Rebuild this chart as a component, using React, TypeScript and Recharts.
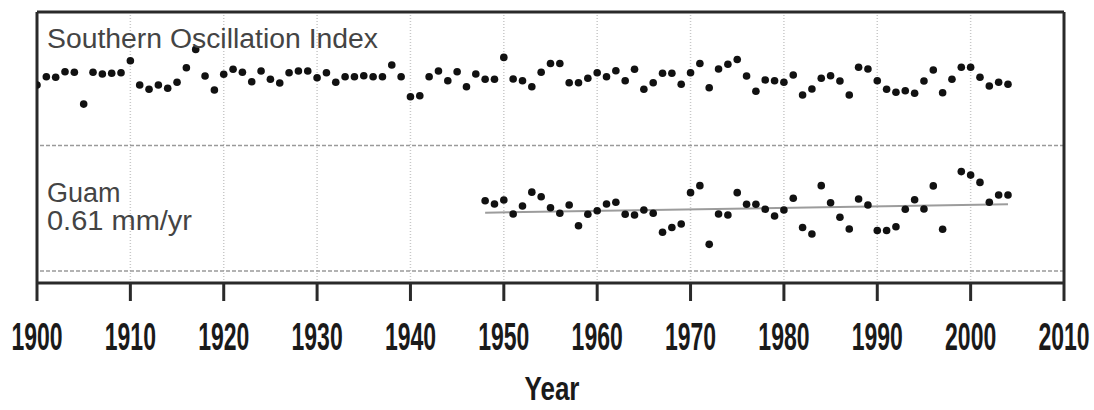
import React from "react";
import {
  ComposedChart,
  Scatter,
  XAxis,
  YAxis,
  CartesianGrid,
  ReferenceLine,
} from "recharts";

// ---- data ----
const SOI_FIRST_YEAR = 1900;
const SOI_VALUES: number[] = [
  741, 774, 772, 794, 792, 665, 792, 785, 788, 790,
  838, 741, 724, 741, 728, 752, 810, 883, 777, 721,
  784, 804, 792, 754, 797, 764, 749, 790, 797, 797,
  770, 790, 752, 774, 774, 778, 774, 774, 821, 774,
  694, 698, 774, 797, 758, 794, 734, 785, 764, 764,
  851, 765, 758, 734, 792, 827, 827, 750, 750, 768,
  790, 774, 798, 758, 804, 724, 750, 788, 788, 744,
  790, 827, 730, 805, 824, 843, 777, 716, 761, 758,
  752, 781, 701, 725, 768, 778, 757, 701, 812, 805,
  758, 724, 712, 718, 708, 757, 801, 710, 764, 812,
  812, 772, 737, 752, 744,
];

const GUAM_FIRST_YEAR = 1948;
const GUAM_VALUES: (number | null)[] = [
  280, 267, 283, 227, 259, 314, 296, 252, 230, 263,
  180, 226, 240, 267, 274, 226, 223, 243, 230, 154,
  173, 187, 312, 340, 106, 227, 223, 312, 266, 266,
  246, 219, 243, 290, 173, 147, 340, 272, 214, 167,
  287, 263, 161, 161, 176, 246, 284, 247, 339, 166,
  null, 396, 382, 353, 274, 303, 303,
];

const TREND_YEARS = [1948, 2004];
const TREND_VALUES = [232, 266];

const X_TICKS = [1900, 1910, 1920, 1930, 1940, 1950, 1960, 1970, 1980, 1990, 2000, 2010];
const Y_TICKS = [0, 100, 200, 300, 400, 500, 611, 719, 824, 930];
const Y_DOMAIN = [-48, 1032];
const PANEL_LINES = [0, 500];

const TITLE_SOI = "Southern Oscillation Index";
const TITLE_GUAM = "Guam";
const GUAM_RATE = "0.61 mm/yr";
const X_LABEL = "Year";

const soiData = SOI_VALUES.map((v, i) => ({ year: SOI_FIRST_YEAR + i, v }));
const guamData = GUAM_VALUES.map((v, i) => ({ year: GUAM_FIRST_YEAR + i, v })).filter(
  (d) => d.v !== null
);

const Dot = (props: any) => {
  const { cx, cy } = props;
  if (cx == null || cy == null) return null;
  return <circle cx={cx} cy={cy} r={3.8} fill="#111" />;
};

const XTick = (props: any) => {
  const { x, payload } = props;
  return (
    <g transform={`translate(${x},350) scale(1,1.72)`}>
      <text
        x={0}
        y={0}
        textAnchor="middle"
        fontFamily="'Liberation Sans', Arial, sans-serif"
        fontWeight="bold"
        fontSize={23}
        fill="#1a1a1a"
      >
        {payload.value}
      </text>
    </g>
  );
};

const W = 1094;
const H = 410;

export default function App() {
  return (
    <div style={{ position: "relative", width: W, height: H, overflow: "hidden" }}>
      <style>{"html,body{margin:0;padding:0;overflow:hidden;}"}</style>
      <ComposedChart
        width={W}
        height={H}
        margin={{ top: 12, right: 0, left: 37, bottom: 0 }}
      >
        <CartesianGrid
          horizontal={false}
          vertical={true}
          stroke="#c8c8c8"
          strokeDasharray="1 2"
          strokeWidth={1.5}
        />
        <XAxis
          dataKey="year"
          type="number"
          domain={[1900, 2010]}
          ticks={X_TICKS}
          allowDataOverflow
          height={127}
          axisLine={{ stroke: "#2a2a2a", strokeWidth: 3 }}
          tickLine={{ stroke: "#2a2a2a", strokeWidth: 3 }}
          tickSize={18}
          tick={<XTick />}
          interval={0}
        />
        <YAxis
          yAxisId="r"
          orientation="right"
          type="number"
          domain={Y_DOMAIN}
          ticks={Y_TICKS}
          allowDataOverflow
          width={30}
          axisLine={{ stroke: "#2a2a2a", strokeWidth: 3 }}
          tickLine={{ stroke: "#2a2a2a", strokeWidth: 2.5 }}
          tickSize={12}
          tick={false}
        />
        {PANEL_LINES.map((y) => (
          <ReferenceLine
            key={y}
            yAxisId="r"
            y={y}
            stroke="#9a9a9a"
            strokeWidth={1.5}
            strokeDasharray="4 2"
          />
        ))}
        <ReferenceLine yAxisId="r" y={Y_DOMAIN[1]} stroke="#2a2a2a" strokeWidth={3} />
        <ReferenceLine yAxisId="r" x={1900} stroke="#2a2a2a" strokeWidth={3} />
        <ReferenceLine
          yAxisId="r"
          segment={[
            { x: TREND_YEARS[0], y: TREND_VALUES[0] },
            { x: TREND_YEARS[1], y: TREND_VALUES[1] },
          ]}
          stroke="#9c9c9c"
          strokeWidth={2}
        />
        <Scatter
          yAxisId="r"
          data={soiData}
          dataKey="v"
          shape={<Dot />}
          isAnimationActive={false}
        />
        <Scatter
          yAxisId="r"
          data={guamData}
          dataKey="v"
          shape={<Dot />}
          isAnimationActive={false}
        />
      </ComposedChart>
      <svg
        width={W}
        height={H}
        style={{ position: "absolute", left: 0, top: 0, pointerEvents: "none" }}
      >
        <g fontFamily="'Liberation Sans', Arial, sans-serif" fill="#444" fontSize={27}>
          <text x={47} y={48} textLength={331} lengthAdjust="spacingAndGlyphs">
            {TITLE_SOI}
          </text>
          <text x={47} y={202}>{TITLE_GUAM}</text>
          <text x={47} y={230} textLength={145} lengthAdjust="spacingAndGlyphs">
            {GUAM_RATE}
          </text>
        </g>
        <g transform="translate(552,400) scale(1,1.3)">
          <text
            x={0}
            y={0}
            textAnchor="middle"
            fontFamily="'Liberation Sans', Arial, sans-serif"
            fontWeight="bold"
            fontSize={26}
            fill="#1a1a1a"
          >
            {X_LABEL}
          </text>
        </g>
      </svg>
    </div>
  );
}
